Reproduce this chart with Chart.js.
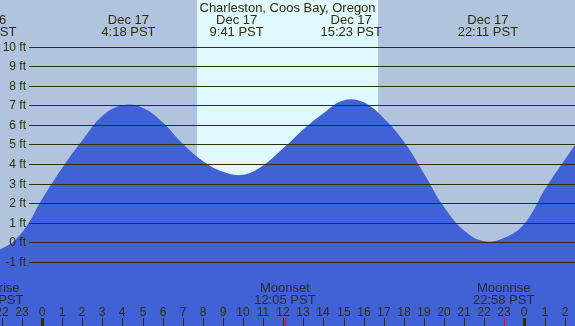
<!DOCTYPE html>
<html>
<head>
<meta charset="utf-8">
<script src="https://cdn.jsdelivr.net/npm/chart.js@4"></script>
<style>
html,body{margin:0;padding:0;background:#b0c4de;}
canvas{display:block;}
</style>
</head>
<body>
<canvas id="c" width="575" height="326"></canvas>
<script>
// ---- data ----
const title = "Charleston, Coos Bay, Oregon";
const tideHours = [-3,-2,-1,0,1,2,3,4,5,6,7,8,9,10,11,12,13,14,15,16,17,18,19,20,21,22,23,24,25,26,27,28];
const tideFeet  = [-0.45,-0.32,0.5,2.2,3.8,5.2,6.45,7.0,6.88,6.13,5.03,4.15,3.6,3.45,3.93,4.8,5.77,6.6,7.25,7.15,6.34,5.15,3.52,1.8,0.6,0.05,0.23,0.95,2.67,4.2,5.6,6.6];
const extremeHours = [-2.8, 4.3, 9.683, 15.383, 22.183];
const extremeDates = ["Dec 16","Dec 17","Dec 17","Dec 17","Dec 17"];
const extremeTimes = ["21:12 PST","4:18 PST","9:41 PST","15:23 PST","22:11 PST"];
const moonHours = [-2.45, 12.083, 22.967];
const moonNames = ["Moonrise","Moonset","Moonrise"];
const moonTimes = ["21:33 PST","12:05 PST","22:58 PST"];
const sunrise = 7.71, sunset = 16.72;
const ftTicks = [-1,0,1,2,3,4,5,6,7,8,9,10];
const hourTicks = [-2,-1,0,1,2,3,4,5,6,7,8,9,10,11,12,13,14,15,16,17,18,19,20,21,22,23,24,25,26];
const xMin = -2.09, xMax = 26.517, yMin = -4.277, yMax = 12.381;

const NIGHT = "#b0c4de", DAY = "#e0f8ff", WATER = "#4161d6", INK = "#2e2e00";
const FONT = "'Liberation Sans', Arial, sans-serif";

const decor = {
  id: 'decor',
  beforeDraw(chart) {
    const {ctx, scales:{x}} = chart;
    ctx.save();
    ctx.fillStyle = NIGHT;
    ctx.fillRect(0,0,chart.width,chart.height);
    const a = x.getPixelForValue(sunrise), b = x.getPixelForValue(sunset);
    ctx.fillStyle = DAY;
    ctx.fillRect(a,0,b-a,chart.height);
    ctx.restore();
  },
  afterDatasetsDraw(chart) {
    const {ctx, scales:{x,y}} = chart;
    const W = chart.width, H = chart.height;
    ctx.save();
    // grid lines + ft labels
    ctx.font = "12px " + FONT;
    ctx.textAlign = "right";
    ctx.textBaseline = "middle";
    ftTicks.forEach(v => {
      const py = Math.round(y.getPixelForValue(v)) + 0.5;
      ctx.strokeStyle = INK;
      ctx.lineWidth = 1;
      ctx.beginPath(); ctx.moveTo(29, py); ctx.lineTo(W, py); ctx.stroke();
      ctx.fillStyle = INK;
      ctx.fillText(v + " ft", 26, py);
    });
    // title and extremes
    ctx.textAlign = "center";
    ctx.textBaseline = "alphabetic";
    ctx.font = "13px " + FONT;
    ctx.fillStyle = INK;
    ctx.fillText(title, x.getPixelForValue((sunrise+sunset)/2), 12);
    extremeHours.forEach((h,i) => {
      const px = x.getPixelForValue(h);
      ctx.fillText(extremeDates[i], px, 24);
      ctx.fillText(extremeTimes[i], px, 36);
    });
    // moon events
    moonHours.forEach((h,i) => {
      const px = x.getPixelForValue(h);
      ctx.fillStyle = "#2a2a2a";
      ctx.fillText(moonNames[i], px, 292);
      ctx.fillText(moonTimes[i], px, 304);
    });
    // hour ticks
    ctx.font = "12px " + FONT;
    hourTicks.forEach(h => {
      const px = Math.round(x.getPixelForValue(h));
      const lbl = String(((h % 24) + 24) % 24);
      ctx.fillStyle = INK;
      ctx.fillText(lbl, px, 316);
      const midnight = (h % 24) === 0;
      ctx.fillRect(midnight ? px-1 : px, 318, midnight ? 3 : 1, H-318);
    });
    moonHours.forEach(h => {
      const px = Math.round(x.getPixelForValue(h));
      ctx.fillStyle = "#ff0000";
      ctx.fillRect(px, 318, 1, H-318);
    });
    ctx.restore();
  }
};

new Chart(document.getElementById('c'), {
  type: 'line',
  data: {
    datasets: [{
      data: tideHours.map((h,i) => ({x:h, y:tideFeet[i]})),
      fill: 'start',
      backgroundColor: WATER,
      borderWidth: 0,
      borderColor: WATER,
      pointRadius: 0,
      tension: 0.4
    }]
  },
  options: {
    responsive: false,
    animation: false,
    devicePixelRatio: 1,
    layout: {padding: 0},
    plugins: {legend:{display:false}, tooltip:{enabled:false}},
    scales: {
      x: {type:'linear', min:xMin, max:xMax, display:false},
      y: {min:yMin, max:yMax, display:false}
    }
  },
  plugins: [decor]
});
</script>
</body>
</html>
